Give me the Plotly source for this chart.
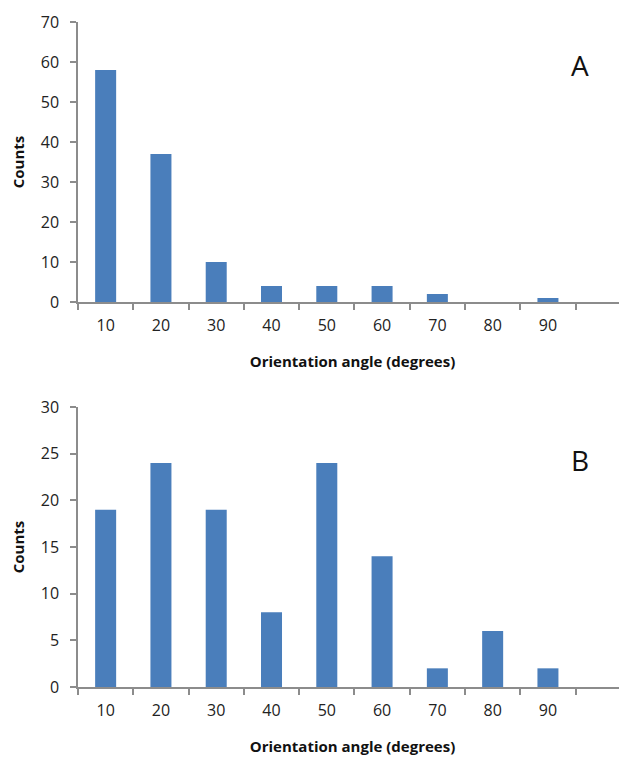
import plotly.graph_objects as go

angles = [10, 20, 30, 40, 50, 60, 70, 80, 90]
counts_a = [58, 37, 10, 4, 4, 4, 2, 0, 1]
counts_b = [19, 24, 19, 8, 24, 14, 2, 6, 2]
tick_labels = ["10", "20", "30", "40", "50", "60", "70", "80", "90"]

BAR = "#4A7EBB"
AX = "#8C8C8C"
FONT = "Open Sans"

fig = go.Figure()
fig.add_trace(go.Bar(x=angles, y=counts_a, width=3.8, marker_color=BAR,
                     marker_line_width=0, xaxis="x", yaxis="y", showlegend=False))
fig.add_trace(go.Bar(x=angles, y=counts_b, width=3.8, marker_color=BAR,
                     marker_line_width=0, xaxis="x2", yaxis="y2", showlegend=False))

W = 619
H = 749
top = 14
bot = 70
ph = H - top - bot
dA = [1 - 280 / ph, 1]
dB = [0, 1 - 385 / ph]

xcommon = dict(
    range=[5, 104.3], tickvals=angles, ticktext=tick_labels, ticks="",
    showline=True, linecolor=AX, linewidth=1.5, showgrid=False, zeroline=False,
    tickfont=dict(family=FONT, size=16, color="#222"),
    ticklabelstandoff=8,
    minor=dict(ticks="outside", tick0=5, dtick=10, ticklen=6, tickcolor=AX, tickwidth=1.5, showgrid=False),
    title=dict(text="<b>Orientation angle (degrees)</b>", font=dict(family=FONT, size=15, color="#111"), standoff=22),
    automargin=False,
    fixedrange=True,
)
ycommon = dict(
    showline=True, linecolor=AX, linewidth=1.5, showgrid=False, zeroline=False,
    ticks="outside", ticklen=6, tickcolor=AX, tickwidth=1.5,
    tickfont=dict(family=FONT, size=16, color="#222"),
    ticklabelstandoff=8,
    title=dict(text="<b>Counts</b>", font=dict(family=FONT, size=15, color="#111"), standoff=14),
    automargin=False,
    fixedrange=True,
)

fig.update_layout(
    width=W, height=H,
    margin=dict(l=70, r=0, t=top, b=bot),
    plot_bgcolor="white", paper_bgcolor="white",
    xaxis=dict(**xcommon, anchor="y", domain=[0, 1]),
    yaxis=dict(**ycommon, anchor="x", domain=dA, range=[0, 70], dtick=10),
    xaxis2=dict(**xcommon, anchor="y2", domain=[0, 1]),
    yaxis2=dict(**ycommon, anchor="x2", domain=dB, range=[0, 30], dtick=5),
    annotations=[
        dict(text="A", x=95.8, y=59.25, xref="x", yref="y", showarrow=False,
             font=dict(family=FONT, size=28, color="#111")),
        dict(text="B", x=95.8, y=24.3, xref="x2", yref="y2", showarrow=False,
             font=dict(family=FONT, size=28, color="#111")),
    ],
)

fig.write_html("out.html")
